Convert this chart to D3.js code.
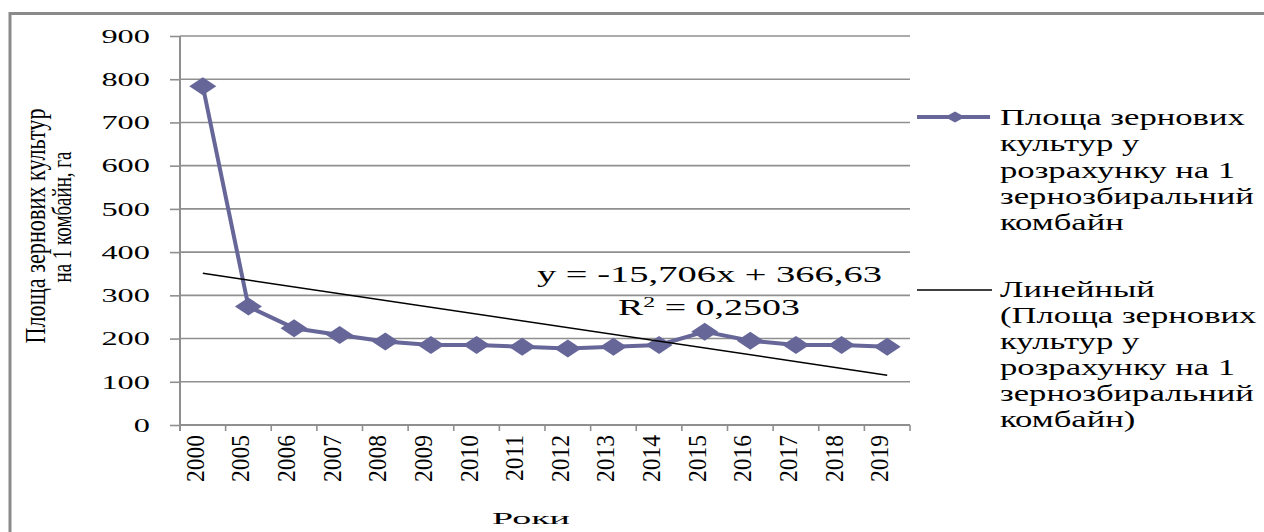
<!DOCTYPE html>
<html>
<head>
<meta charset="utf-8">
<script src="https://cdn.jsdelivr.net/npm/d3@7"></script>
<style>
  html, body { margin: 0; padding: 0; background: #ffffff; overflow: hidden; }
  svg { display: block; }
  text { font-family: "Liberation Serif", "Times New Roman", serif; fill: #000; }
</style>
</head>
<body>
<svg id="chart" width="1264" height="532"></svg>
<script>
// ---- data ----
const categories = ["2000","2005","2006","2007","2008","2009","2010","2011","2012","2013","2014","2015","2016","2017","2018","2019"];
const values = [784, 274, 224, 208, 193, 185, 185, 181, 177, 181, 185, 216, 195, 185, 185, 181];
const yTicks = [0, 100, 200, 300, 400, 500, 600, 700, 800, 900];
const trendSlope = -15.706;
const trendIntercept = 366.63;
const equationText = "y = -15,706x + 366,63";
const r2Value = "0,2503";
const legendSeries = ["Площа зернових", "культур у", "розрахунку на 1", "зернозбиральний", "комбайн"];
const legendTrend = ["Линейный", "(Площа зернових", "культур у", "розрахунку на 1", "зернозбиральний", "комбайн)"];
const yTitle = ["Площа зернових культур", "на 1 комбайн, га"];
const xTitle = "Роки";

// ---- setup ----
const svg = d3.select("#chart");
const seriesColor = "#666699";
const gridColor = "#8f8f8f";

const x = d3.scaleBand().domain(categories).range([180, 910]).padding(0);
const y = d3.scaleLinear().domain([0, 900]).range([425, 36]);

// outer frame: only the top and left edges fall inside the picture
svg.append("path")
  .attr("d", "M10,532V13.5H1264")
  .attr("fill", "none").attr("stroke", "#8a8a8a").attr("stroke-width", 3);

// gridlines
svg.append("g")
  .selectAll("line").data(yTicks.filter(d => d > 0)).join("line")
  .attr("x1", 180).attr("x2", 910)
  .attr("y1", d => y(d)).attr("y2", d => y(d))
  .attr("stroke", gridColor).attr("stroke-width", 1.6);

// y axis
const yAxis = svg.append("g").attr("transform", "translate(180,0)")
  .call(d3.axisLeft(y).tickValues(yTicks).tickSize(10).tickPadding(0).tickSizeOuter(0));
yAxis.select(".domain").attr("stroke", gridColor).attr("stroke-width", 2)
  .attr("d", `M0,${y(900)}V${y(0) + 6}`);
yAxis.selectAll(".tick line").attr("stroke", gridColor).attr("stroke-width", 1.6);
yAxis.selectAll(".tick text")
  .attr("x", 0)
  .attr("dy", "0.34em")
  .attr("transform", "translate(-30,0) scale(1.75,1)")
  .style("font-family", "'Liberation Serif', serif")
  .style("font-size", "18.5px")
  .attr("fill", "#000");

// x axis
const xAxis = svg.append("g").attr("transform", `translate(0,${y(0)})`)
  .call(d3.axisBottom(x).tickSize(0).tickPadding(0).tickSizeOuter(0));
xAxis.select(".domain").attr("stroke", gridColor).attr("stroke-width", 2)
  .attr("d", "M180,0H910");
xAxis.selectAll(".tick text").remove();
const bounds = categories.map(c => x(c)).concat([x(categories[categories.length - 1]) + x.bandwidth()]);
svg.append("g").selectAll("line").data(bounds).join("line")
  .attr("x1", d => d).attr("x2", d => d)
  .attr("y1", y(0)).attr("y2", y(0) + 6)
  .attr("stroke", gridColor).attr("stroke-width", 1.6);
svg.append("g").selectAll("text").data(categories).join("text")
  .attr("transform", d => `translate(${x(d) + x.bandwidth() / 2 + 1},${y(0) + 10}) scale(1.05,1) rotate(-90)`)
  .attr("text-anchor", "end")
  .style("font-size", "23.5px")
  .text(d => d);

// series line
const cx = d => x(d) + x.bandwidth() / 2;
const pts = categories.map((c, i) => ({ c, v: values[i] }));
svg.append("path").datum(pts)
  .attr("fill", "none").attr("stroke", seriesColor).attr("stroke-width", 4)
  .attr("stroke-linejoin", "round")
  .attr("d", d3.line().x(d => cx(d.c)).y(d => y(d.v)));

// markers (diamonds)
const diamond = (w, h) => `M0,${-h / 2}L${w / 2},0L0,${h / 2}L${-w / 2},0Z`;
svg.append("g").selectAll("path").data(pts).join("path")
  .attr("transform", d => `translate(${cx(d.c)},${y(d.v)})`)
  .attr("d", diamond(27, 18))
  .attr("fill", seriesColor);

// trend line
const trendPts = categories.map((c, i) => ({ c, v: trendSlope * (i + 1) + trendIntercept }));
svg.append("path").datum([trendPts[0], trendPts[trendPts.length - 1]])
  .attr("fill", "none").attr("stroke", "#000").attr("stroke-width", 1.5)
  .attr("d", d3.line().x(d => cx(d.c)).y(d => y(d.v)));

// helper to stretch horizontally to a target width
function stretch(sel, tx, ty, targetW) {
  const w = sel.node().getComputedTextLength();
  const s = w > 0 ? targetW / w : 1;
  sel.attr("x", 0).attr("y", 0)
    .attr("transform", `translate(${tx},${ty}) scale(${s},1)`);
  return s;
}

// equation
const eq = svg.append("text").style("font-size", "24px").text(equationText);
stretch(eq, 537, 282, 345);
const r2 = svg.append("text").style("font-size", "24px");
r2.append("tspan").text("R");
r2.append("tspan").attr("baseline-shift", "super").style("font-size", "15px").text("2");
r2.append("tspan").text(" = " + r2Value);
stretch(r2, 618, 315, 182);

// legend
const lg = svg.append("g");
lg.append("line").attr("x1", 917).attr("x2", 990).attr("y1", 117).attr("y2", 117)
  .attr("stroke", seriesColor).attr("stroke-width", 4);
lg.append("path").attr("transform", "translate(955,117)").attr("d", diamond(20, 11)).attr("fill", seriesColor);
lg.append("line").attr("x1", 917).attr("x2", 992).attr("y1", 290).attr("y2", 290)
  .attr("stroke", "#000").attr("stroke-width", 1.5);

const probe = lg.append("text").style("font-size", "24px").text(legendSeries[0]);
const legendScale = 245 / probe.node().getComputedTextLength();
probe.remove();
lg.selectAll("text.s1").data(legendSeries).join("text").attr("class", "s1")
  .style("font-size", "24px")
  .attr("transform", (d, i) => `translate(1000,${125 + i * 26.3}) scale(${legendScale},1)`)
  .text(d => d);
lg.selectAll("text.s2").data(legendTrend).join("text").attr("class", "s2")
  .style("font-size", "24px")
  .attr("transform", (d, i) => `translate(1000,${297 + i * 26}) scale(${legendScale},1)`)
  .text(d => d);

// axis titles
const xt = svg.append("text").style("font-size", "17px").text(xTitle);
stretch(xt, 492, 524, 78);

svg.append("text")
  .attr("transform", "translate(45,226) scale(1.35,1) rotate(-90)")
  .attr("text-anchor", "middle")
  .attr("textLength", 235).attr("lengthAdjust", "spacingAndGlyphs")
  .style("font-size", "22px")
  .text(yTitle[0]);
svg.append("text")
  .attr("transform", "translate(71,217) scale(1.2,1) rotate(-90)")
  .attr("text-anchor", "middle")
  .attr("textLength", 131).attr("lengthAdjust", "spacingAndGlyphs")
  .style("font-size", "22px")
  .text(yTitle[1]);
</script>
</body>
</html>
